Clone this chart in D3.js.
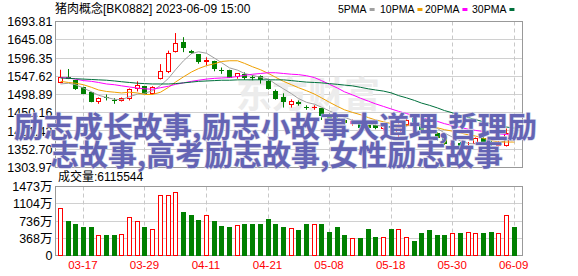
<!DOCTYPE html>
<html>
<head>
<meta charset="utf-8">
<script src="https://cdn.jsdelivr.net/npm/d3@7"></script>
<style>
body { margin: 0; background: #fff; }
text { font-family: "Liberation Sans", Arial, "Noto Sans CJK SC", sans-serif; }
</style>
</head>
<body>
<div id="chart"></div>
<script>
// 60 trading days, BK0882
var dates = ['03-14','03-15','03-16','03-17','03-20','03-21','03-22','03-23','03-24','03-27',
	'03-28','03-29','03-30','03-31','04-03','04-04','04-06','04-07','04-10','04-11',
	'04-12','04-13','04-14','04-17','04-18','04-19','04-20','04-21','04-24','04-25',
	'04-26','04-27','04-28','05-04','05-05','05-08','05-09','05-10','05-11','05-12',
	'05-15','05-16','05-17','05-18','05-19','05-22','05-23','05-24','05-25','05-26',
	'05-29','05-30','05-31','06-01','06-02','06-05','06-06','06-07','06-08','06-09'];

var opens = [1531,1543,1536,1518,1505,1480,1491,1484,1482,1487,
	1514,1519,1502,1541,1559,1613,1637,1613,1605,1588,
	1587,1563,1562,1547,1553,1545,1546,1534,1508,1492,
	1473,1478,1465,1464,1462,1442,1434,1430,1422,1424,
	1415,1416,1408,1414,1398,1420,1434,1418,1404,1395,
	1385,1360,1368,1352,1369,1381,1372,1364,1363,1395];
var highs = [1565,1567,1538,1519,1506,1491,1499,1489,1491,1515,
	1534,1521,1521,1580,1616,1663,1652,1618,1607,1598,
	1589,1571,1565,1556,1558,1551,1550,1537,1512,1502,
	1486,1483,1470,1470,1463,1448,1440,1434,1432,1428,
	1418,1419,1418,1417,1422,1434,1437,1420,1408,1398,
	1388,1373,1372,1372,1384,1385,1376,1374,1408,1402];
var lows = [1529,1540,1511,1500,1478,1474,1483,1474,1480,1483,
	1507,1500,1499,1539,1556,1611,1612,1607,1581,1577,
	1561,1554,1543,1541,1538,1537,1528,1512,1485,1464,
	1464,1469,1458,1458,1431,1426,1420,1418,1416,1408,
	1404,1406,1402,1404,1385,1414,1420,1402,1390,1376,
	1364,1354,1355,1341,1366,1367,1362,1360,1360,1378];
var closes = [1544,1542,1516,1502,1479,1489,1490,1483,1489,1513,
	1523,1502,1518,1560,1609,1636,1624,1612,1586,1589,
	1569,1562,1544,1554,1545,1544,1540,1515,1489,1480,
	1481,1474,1464,1465,1443,1430,1426,1424,1426,1412,
	1410,1411,1413,1410,1412,1430,1423,1406,1396,1385,
	1368,1368,1358,1360,1381,1370,1366,1370,1396,1383];

// volume in 万
var volumes = [1018,726,683,598,619,441,448,448,462,826,
	740,598,569,1281,1281,1360,939,854,768,868,
	747,640,598,655,662,683,669,783,683,598,
	590,534,683,662,669,512,598,427,377,363,
	576,405,405,576,569,405,320,491,555,448,
	427,470,491,512,491,491,512,470,875,611.5544];

var ma5 = [1527,1529,1525,1516,1506,1497,1491,1486,1485,1493,
	1500,1502,1509,1523,1542,1565,1589,1608,1613,1609,
	1596,1584,1570,1564,1555,1550,1545,1540,1527,1514,
	1501,1488,1478,1473,1465,1455,1446,1438,1430,1424,
	1420,1417,1414,1411,1411,1415,1418,1416,1413,1408,
	1396,1385,1375,1368,1367,1367,1367,1369,1377,1377];
var ma10 = [1534,1531,1529,1525,1518,1511,1507,1505,1503,1505,
	1503,1499,1499,1505,1518,1532,1546,1559,1568,1576,
	1581,1587,1589,1589,1582,1573,1565,1555,1545,1534,
	1525,1517,1509,1500,1490,1478,1467,1458,1451,1445,
	1437,1431,1426,1421,1417,1417,1417,1415,1412,1410,
	1405,1401,1396,1391,1388,1382,1376,1372,1372,1372];
var ma20 = [1544,1543,1540,1536,1534,1531,1527,1525,1522,1519,
	1516,1514,1513,1517,1521,1526,1530,1534,1537,1540,
	1542,1543,1544,1547,1550,1553,1555,1557,1557,1555,
	1553,1552,1549,1544,1536,1526,1516,1506,1498,1489,
	1481,1474,1467,1460,1454,1448,1442,1437,1432,1427,
	1421,1416,1411,1406,1403,1400,1397,1394,1392,1391];
var ma30 = [1543,1542,1541,1540,1539,1538,1537,1535,1533,1531,
	1529,1528,1527,1527,1527,1528,1530,1532,1534,1535,
	1536,1537,1537,1538,1538,1538,1538,1538,1538,1538,
	1536,1534,1532,1531,1530,1528,1526,1524,1522,1518,
	1514,1511,1508,1503,1496,1490,1483,1476,1470,1463,
	1456,1450,1443,1437,1432,1426,1420,1415,1412,1409];

var priceTicks = [1693.81,1645.08,1596.35,1547.62,1498.89,1450.16,1401.43,1352.70,1303.97];
var volTicks = [1473,1104,736,368,0];
var dateTicks = ['03-17','03-29','04-11','04-21','05-08','05-18','05-30','06-09'];
var maNames = ['5PMA','10PMA','20PMA','30PMA'];

var titleText = '猪肉概念[BK0882] 2023-06-09 15:00';
var overlayLines = ['励志成长故事,励志小故事大道理,哲理励', '志故事,高考励志故事,女性励志故事'];

var UP = '#ff0000', DOWN = '#008000';
var maColors = ['#a0a0a0', '#f0a000', '#ff00ff', '#00703c'];

var width = 578, height = 276;
var left = 56, right = 522;

var svg = d3.select('#chart').append('svg')
	.attr('width', width)
	.attr('height', height)
	.style('display', 'block');

svg.append('rect').attr('width', width).attr('height', height).attr('fill', '#fff');

var x = d3.scaleBand().domain(dates).range([left, 517.5]);
var yP = d3.scaleLinear().domain([priceTicks[priceTicks.length - 1], priceTicks[0]]).range([167.5, 21.5]);
var yV = d3.scaleLinear().domain([0, volTicks[0]]).range([255.5, 186.5]);

function cx(d) {
	return Math.round(x(d) + x.bandwidth() / 2);
}
function crisp(v) {
	return Math.floor(v) + 0.5;
}

var rows = dates.map(function(d, i) {
	return {date: d, open: opens[i], high: highs[i], low: lows[i], close: closes[i], vol: volumes[i]};
});

/*
 * grid
 */
var grid = svg.append('g');

grid.selectAll('.hp').data(priceTicks).enter().append('line')
	.attr('x1', left).attr('x2', right)
	.attr('y1', function(d) { return crisp(yP(d)); })
	.attr('y2', function(d) { return crisp(yP(d)); })
	.attr('stroke', '#d0d0d0');

grid.selectAll('.hv').data(volTicks).enter().append('line')
	.attr('x1', left).attr('x2', right)
	.attr('y1', function(d) { return crisp(yV(d)); })
	.attr('y2', function(d) { return crisp(yV(d)); })
	.attr('stroke', '#d0d0d0');

[[21.5, 167.5], [186.5, 255.5]].forEach(function(r) {
	grid.selectAll(null).data(dateTicks).enter().append('line')
		.attr('x1', function(d) { return cx(d) + 0.5; })
		.attr('x2', function(d) { return cx(d) + 0.5; })
		.attr('y1', r[0]).attr('y2', r[1])
		.attr('stroke', '#c8c8c8')
		.attr('stroke-dasharray', '4,3');
});

// watermark
svg.append('text')
	.attr('x', 236).attr('y', 108)
	.attr('font-size', 36)
	.attr('font-weight', 'bold')
	.style('font-family', '"Noto Sans CJK SC", sans-serif')
	.attr('fill', '#ececec')
	.text('东方财富');

/*
 * frames
 */
svg.append('rect').attr('x', left - 0.5).attr('y', 21.5).attr('width', right - left + 1).attr('height', 146)
	.attr('fill', 'none').attr('stroke', '#999');
svg.append('rect').attr('x', left - 0.5).attr('y', 186.5).attr('width', right - left + 1).attr('height', 69)
	.attr('fill', 'none').attr('stroke', '#999');

/*
 * axes
 */
var axP = svg.append('g').attr('transform', 'translate(' + (left - 0.5) + ',0)')
	.call(d3.axisLeft(yP).tickValues(priceTicks).tickSize(0).tickPadding(3)
		.tickFormat(function(d) { return d.toFixed(2); }));
var axV = svg.append('g').attr('transform', 'translate(' + (left - 0.5) + ',0)')
	.call(d3.axisLeft(yV).tickValues(volTicks).tickSize(0).tickPadding(3)
		.tickFormat(function(d) { return d == 0 ? '0' : d + '万'; }));
var axX = svg.append('g').attr('transform', 'translate(0,259)')
	.call(d3.axisBottom(x).tickValues(dateTicks).tickSize(0).tickPadding(2));

[axP, axV, axX].forEach(function(a) {
	a.select('.domain').remove();
	a.selectAll('text').attr('font-size', 12.5).attr('fill', '#000')
		.style('font-family', '"Liberation Sans", Arial, "Noto Sans CJK SC", sans-serif');
});
axX.selectAll('text').attr('font-size', 11.5).attr('fill', UP);

/*
 * candles
 */
var cg = svg.append('g');
var candle = cg.selectAll('.candle').data(rows).enter().append('g').attr('class', 'candle');

candle.append('line')
	.attr('x1', function(d) { return cx(d.date) + 0.5; })
	.attr('x2', function(d) { return cx(d.date) + 0.5; })
	.attr('y1', function(d) { return yP(d.high); })
	.attr('y2', function(d) { return yP(d.low); })
	.attr('stroke', function(d) { return d.close > d.open ? UP : DOWN; });

candle.each(function(d) {
	var g = d3.select(this);
	var top = crisp(yP(Math.max(d.open, d.close)));
	var bot = crisp(yP(Math.min(d.open, d.close)));
	var c = cx(d.date);
	if (bot - top < 1) {
		g.append('line').attr('x1', c - 2).attr('x2', c + 3).attr('y1', top).attr('y2', top)
			.attr('stroke', d.close > d.open ? UP : DOWN);
	} else if (d.close > d.open) {
		g.append('rect').attr('x', c - 1.5).attr('y', top).attr('width', 4).attr('height', bot - top)
			.attr('fill', '#fff').attr('stroke', UP);
	} else {
		g.append('rect').attr('x', c - 2).attr('y', top - 0.5).attr('width', 5).attr('height', bot - top + 1)
			.attr('fill', DOWN);
	}
});

/*
 * moving averages
 */
[ma5, ma10, ma20, ma30].forEach(function(ma, k) {
	var line = d3.line()
		.x(function(v, i) { return cx(dates[i]) + 0.5; })
		.y(function(v) { return yP(v); });
	svg.append('path').datum(ma)
		.attr('d', line)
		.attr('fill', 'none')
		.attr('stroke', maColors[k])
		.attr('stroke-width', 1);
});

/*
 * volume
 */
svg.selectAll('.vol').data(rows).enter().append('rect')
	.attr('class', 'vol')
	.each(function(d) {
		var r = d3.select(this);
		var c = cx(d.date);
		var t = Math.round(yV(d.vol));
		if (d.close > d.open) {
			r.attr('x', c - 1.5).attr('y', t + 0.5).attr('width', 4).attr('height', 255 - t)
				.attr('fill', '#fff').attr('stroke', UP);
		} else {
			r.attr('x', c - 2).attr('y', t).attr('width', 5).attr('height', 256 - t)
				.attr('fill', DOWN);
		}
	});

/*
 * texts
 */
svg.append('text').attr('x', 55).attr('y', 13).attr('font-size', 12).text(titleText);

svg.append('text').attr('x', 58).attr('y', 181).attr('font-size', 12)
	.text('成交量:' + Math.round(volumes[volumes.length - 1] * 10000));

var legX = [338, 380, 425, 472];
var leg = svg.append('g');
maNames.forEach(function(n, k) {
	var t = leg.append('text').attr('x', legX[k]).attr('y', 13).attr('font-size', 10.5).text(n);
	var w = t.node().getComputedTextLength();
	leg.append('rect').attr('x', legX[k] + w + 3).attr('y', 8).attr('width', 5).attr('height', 3)
		.attr('fill', maColors[k]);
});

// big overlay text on top of the chart
var ov = svg.append('g')
	.style('font-family', '"Noto Sans CJK SC", sans-serif')
	.attr('font-size', 29)
	.attr('font-weight', 'bold')
	.attr('fill', '#6464b4')
	.attr('stroke', '#d4d4e6')
	.attr('stroke-width', 1.2)
	.style('paint-order', 'stroke');
ov.append('text').attr('x', 14).attr('y', 138)
	.attr('textLength', 523).attr('lengthAdjust', 'spacingAndGlyphs')
	.style('font-family', '"Noto Sans CJK SC", sans-serif')
	.text(overlayLines[0]);
ov.append('text').attr('x', 50).attr('y', 166)
	.attr('textLength', 453).attr('lengthAdjust', 'spacingAndGlyphs')
	.style('font-family', '"Noto Sans CJK SC", sans-serif')
	.text(overlayLines[1]);
</script>
</body>
</html>
